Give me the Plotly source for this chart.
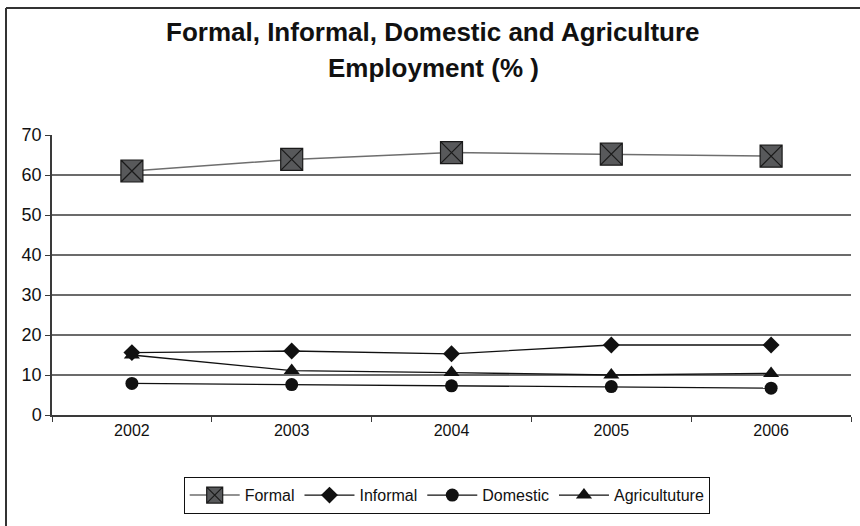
import plotly.graph_objects as go

# Employment shares by sector, 2002-2006 (%)
years = ["2002", "2003", "2004", "2005", "2006"]
formal = [61.0, 63.9, 65.6, 65.2, 64.7]
informal = [15.6, 16.0, 15.3, 17.5, 17.5]
domestic = [7.9, 7.6, 7.3, 7.1, 6.7]
agriculture = [15.0, 11.1, 10.6, 10.0, 10.4]

y_ticks = [0, 10, 20, 30, 40, 50, 60, 70]
grid_values = [10, 20, 30, 40, 50, 60]

W, H = 860, 526
L, R, T, B = 52, 9, 135, 111
PW, PH = W - L - R, H - T - B

FONT = "Liberation Sans, Arial, sans-serif"
INK = "#111111"
AXIS = "#3a3a3a"


def px_x(px):
    return (px - L) / PW


def px_y(py):
    return (H - B - py) / PH


fig = go.Figure()

fig.add_trace(go.Scatter(
    x=years, y=formal, name="Formal", mode="lines+markers",
    line=dict(color="#6e6e6e", width=1.5),
    marker=dict(symbol="square-x", size=22, color="#58595b",
                line=dict(color="#1a1a1a", width=1.2)),
))
fig.add_trace(go.Scatter(
    x=years, y=informal, name="Informal", mode="lines+markers",
    line=dict(color=INK, width=1.3),
    marker=dict(symbol="diamond", size=13, color=INK),
))
fig.add_trace(go.Scatter(
    x=years, y=domestic, name="Domestic", mode="lines+markers",
    line=dict(color=INK, width=1.3),
    marker=dict(symbol="circle", size=13, color=INK),
))
fig.add_trace(go.Scatter(
    x=years, y=agriculture, name="Agricultuture", mode="lines+markers",
    line=dict(color=INK, width=1.3),
    marker=dict(symbol="triangle-up", size=14, color=INK),
))

shapes = []
for g in grid_values:
    shapes.append(dict(type="line", xref="paper", yref="y", x0=0, x1=1,
                       y0=g, y1=g, line=dict(color=AXIS, width=1.5),
                       layer="below"))
# outer frame (left and top edges)
shapes.append(dict(type="line", xref="paper", yref="paper",
                   x0=px_x(6), x1=px_x(6), y0=px_y(8), y1=px_y(540),
                   line=dict(color="#333333", width=2)))
shapes.append(dict(type="line", xref="paper", yref="paper",
                   x0=px_x(6), x1=px_x(880), y0=px_y(8), y1=px_y(8),
                   line=dict(color="#333333", width=2)))

fig.update_layout(
    width=W, height=H,
    margin=dict(l=L, r=R, t=T, b=B),
    paper_bgcolor="white", plot_bgcolor="white",
    font=dict(family=FONT, color=INK, size=14),
    showlegend=True,
    legend=dict(
        orientation="h", x=px_x(447), xanchor="center",
        y=px_y(477), yanchor="top",
        bordercolor=INK, borderwidth=1.2,
        font=dict(family=FONT, size=16, color=INK),
        itemwidth=50, traceorder="normal",
    ),
    shapes=shapes,
    annotations=[
        dict(text="<b>Formal, Informal, Domestic and Agriculture</b>",
             xref="paper", yref="paper", x=px_x(433), y=px_y(32),
             xanchor="center", yanchor="middle", showarrow=False,
             font=dict(family=FONT, size=26, color=INK)),
        dict(text="<b>Employment (% )</b>",
             xref="paper", yref="paper", x=px_x(433), y=px_y(68),
             xanchor="center", yanchor="middle", showarrow=False,
             font=dict(family=FONT, size=26, color=INK)),
    ],
)

fig.update_xaxes(
    type="category", range=[-0.5, 4.5],
    showgrid=False, showline=True, linecolor=AXIS, linewidth=1.5,
    ticks="outside", tickson="boundaries", ticklen=5, tickcolor=AXIS,
    tickwidth=1.2, tickfont=dict(family=FONT, size=16, color=INK),
    fixedrange=True,
)
fig.update_yaxes(
    range=[0, 70], tickvals=y_ticks, showgrid=False, zeroline=False,
    showline=True, linecolor=AXIS, linewidth=1.5,
    ticks="outside", ticklen=5, tickcolor=AXIS, tickwidth=1.2,
    tickfont=dict(family=FONT, size=18, color=INK),
    fixedrange=True,
)

fig.write_html("out.html")
